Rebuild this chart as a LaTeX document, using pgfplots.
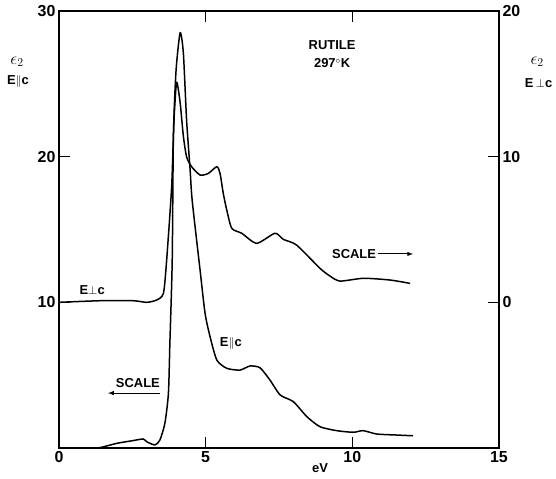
\documentclass[border=0pt]{standalone}
\usepackage{pgfplots}
\pgfplotsset{compat=1.18}
\usepackage{fontspec}
\setmainfont{Liberation Sans}

% E parallel c, left scale
\pgfplotstableread{
x y
0.00 0.00
1.00 0.00
1.40 0.03
1.97 0.32
2.50 0.50
2.87 0.62
2.99 0.43
3.27 0.21
3.44 0.55
3.61 1.70
3.73 3.75
3.78 7.19
3.86 12.9
3.90 21.4
3.99 25.9
4.13 28.5
4.24 27.1
4.35 22.5
4.47 19.1
4.54 17.0
4.81 12.2
4.98 9.24
5.15 7.64
5.38 6.04
5.72 5.47
6.17 5.35
6.51 5.63
6.85 5.51
7.19 4.67
7.54 3.64
7.99 3.18
8.45 2.15
8.90 1.46
9.47 1.19
10.03 1.08
10.37 1.19
10.83 0.96
11.51 0.89
12.06 0.84
}\parc

% E perpendicular c, right scale
\pgfplotstableread{
x y
0.00 0.00
1.40 0.11
2.53 0.11
2.99 0.00
3.33 0.16
3.56 0.62
3.67 2.90
3.84 7.93
3.92 12.5
4.01 15.1
4.13 13.7
4.24 11.4
4.35 9.99
4.52 9.31
4.81 8.74
5.09 8.85
5.38 9.31
5.49 8.85
5.60 7.48
5.72 6.33
5.89 5.08
6.23 4.74
6.74 4.05
7.36 4.74
7.65 4.32
8.10 3.93
8.90 2.33
9.24 1.80
9.58 1.46
10.38 1.65
11.29 1.53
11.97 1.30
}\perpc

\tikzset{
  lab/.style={font=\bfseries\fontsize{13}{13}\selectfont},
  eps/.style={font=\fontsize{18}{18}\selectfont},
}

\begin{document}
\begin{tikzpicture}
\pgfplotsset{
  every axis/.append style={
    scale only axis, width=440bp, height=437bp,
    xmin=0, xmax=15,
    axis line style={line width=1.1pt},
    tick style={line width=1.1pt, black},
    major tick length=11bp,
    tick align=inside,
    ticklabel style={font=\bfseries\fontsize{16}{16}\selectfont},
    /pgf/number format/assume math mode=true,
  },
}
\begin{axis}[
  at={(0,0)}, anchor=south west,
  ymin=0, ymax=30,
  xtick={0,5,10,15}, xtick pos=both,
  xticklabels={0,5,10,15},
  ytick={10,20,30}, ytick pos=left,
  clip=false,
]
\addplot[black, line width=1.5pt, smooth, tension=0.4] table {\parc};

\node[lab] at (axis cs:8.9,-1.35) {eV};
\node[lab] at (axis cs:9.31,27.66) {RUTILE};
\node[lab] at (axis cs:9.31,26.42) {297$^\circ$K};
\node[lab] at (axis cs:10.06,13.32) {SCALE};
\draw[-latex, line width=1pt] (axis cs:10.88,13.32) -- (axis cs:12.07,13.32);
\node[lab] at (axis cs:2.69,4.46) {SCALE};
\draw[-latex, line width=1pt] (axis cs:3.44,3.77) -- (axis cs:1.67,3.77);
\node[lab] at (axis cs:1.13,10.84) {E$\perp$c};
\node[lab] at (axis cs:5.86,7.14) {E$\parallel$c};
\node[eps] at (axis cs:-1.43,26.5) {$\epsilon_2$};
\node[lab] at (axis cs:-1.40,25.15) {E$\parallel$c};
\node[eps] at (axis cs:16.30,26.5) {$\epsilon_2$};
\node[lab] at (axis cs:16.35,25.05) {E\,$\perp$c};
\path (axis cs:0,0) ++(-59bp,-31bp) coordinate (bl);
\path (axis cs:15,30) ++(57bp,11bp) coordinate (tr);
\end{axis}
\begin{axis}[
  at={(0,0)}, anchor=south west,
  ymin=-10, ymax=20,
  axis x line=none,
  axis y line*=right,
  ytick={0,10,20},
]
\addplot[black, line width=1.5pt, smooth, tension=0.4] table {\perpc};
\end{axis}
\useasboundingbox (bl) rectangle (tr);
\end{tikzpicture}
\end{document}
